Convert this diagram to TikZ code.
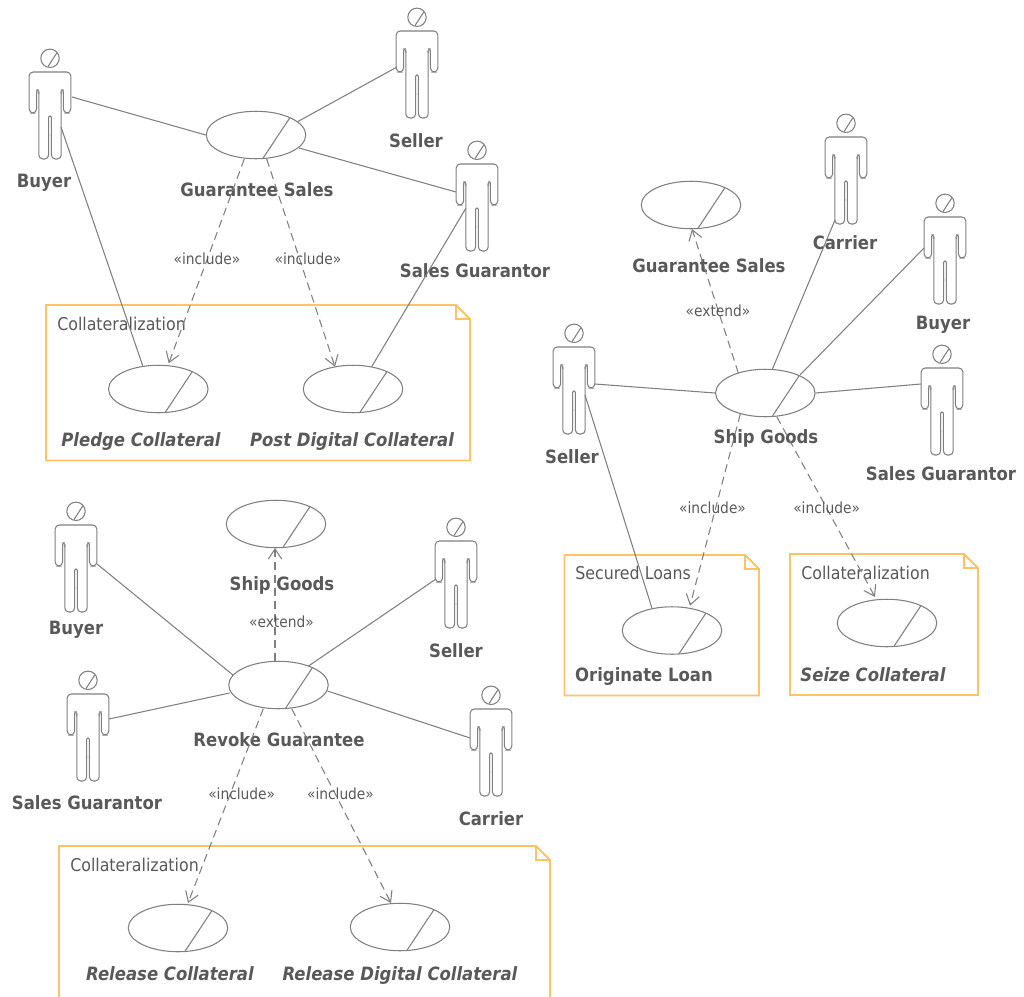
\documentclass[tikz,border=0pt]{standalone}
\usepackage{fontspec}
\usepackage{xcolor}
\setmainfont{DejaVu Sans Condensed}
\usetikzlibrary{arrows.meta,shapes.geometric}
\definecolor{umlline}{HTML}{808080}
\definecolor{umltext}{HTML}{595959}
\definecolor{umlnote}{HTML}{FFC266}
\tikzset{
  umlstroke/.style={draw=umlline, line width=0.8pt},
  actorbox/.style={rectangle, minimum width=31.5pt, minimum height=82.5pt, inner sep=0pt},
  figure/.pic={
    \draw[umlstroke] (0,-45.7) circle [radius=9.2];
    \draw[umlstroke] (-2,-37.4)--(7,-51.4);
    \draw[umlstroke, rounded corners=3pt] (-13.4,-13)--(-13.4,9)--(-20.8,9)--(-20.8,-32)--(20.8,-32)--(20.8,9)--(13.4,9)--(13.4,-13);
    \draw[umlstroke, rounded corners=1pt] (-13.4,-10)--(-13.4,-14)--(-11.2,-14)--(-11.2,-10);
    \draw[umlstroke, rounded corners=1pt] (13.4,-10)--(13.4,-14)--(11.2,-14)--(11.2,-10);
    \draw[umlstroke, rounded corners=3pt] (-1.4,30)--(-1.4,55)--(-11.2,55)--(-11.2,-12);
    \draw[umlstroke, rounded corners=3pt] (1.4,30)--(1.4,55)--(11.2,55)--(11.2,-12);
    \draw[umlstroke, rounded corners=1pt] (-1.4,32)--(-1.4,12)--(1.4,12)--(1.4,32);
  },
  usecase/.style={ellipse, umlstroke, fill=white, minimum width=74.6pt, minimum height=35.6pt, inner sep=0pt,
    path picture={\draw[umlstroke] ([shift={(6.7,23.7)}]path picture bounding box.center)--([shift={(33.7,-17)}]path picture bounding box.center);}},
  actorname/.style={text=umltext, font=\bfseries\fontsize{13.75pt}{16pt}\selectfont, inner sep=0pt, text height=10pt, text depth=0pt, yshift=-0.6pt},
  abstractname/.style={actorname, font=\bfseries\itshape\fontsize{13.75pt}{16pt}\selectfont},
  stereo/.style={text=umltext, font=\fontsize{11.5pt}{13pt}\selectfont, inner sep=0pt, text height=8.7pt, text depth=0pt, yshift=-0.4pt},
  notetitle/.style={text=umltext, font=\fontsize{13.2pt}{15pt}\selectfont, inner sep=0pt, anchor=west, text height=10pt, text depth=0pt, yshift=-0.4pt},
  notebox/.style={draw=umlnote, line width=1.4pt},
  assoc/.style={umlstroke},
  dep/.style={umlstroke, dash pattern=on 6pt off 3.75pt, -{Straight Barb[length=7.5pt,width=10pt]}},
}
\newcommand{\actor}[3]{\node[actorbox] (#1) at (#2,#3) {}; \pic at (#2,#3) {figure};}
\begin{document}
\begin{tikzpicture}[x=0.75pt, y=-0.75pt]
  \useasboundingbox (0,0) rectangle (1024,996);

  \draw[notebox] (46,305)--(456,305)--(470,319)--(470,460.5)--(46,460.5)--cycle;
  \draw[notebox] (456,305)--(456,319)--(470,319);
  \draw[notebox] (564.5,555)--(745,555)--(759,569)--(759,695.5)--(564.5,695.5)--cycle;
  \draw[notebox] (745,555)--(745,569)--(759,569);
  \draw[notebox] (790,554)--(964,554)--(978,568)--(978,695)--(790,695)--cycle;
  \draw[notebox] (964,554)--(964,568)--(978,568);
  \draw[notebox] (59,1010)--(59,846)--(536,846)--(550,860)--(550,1010);
  \draw[notebox] (536,846)--(536,860)--(550,860);

  \node[notetitle] (notepledge) at (57,323) {Collateralization};
  \node[notetitle] (noteloans) at (575,572) {Secured Loans};
  \node[notetitle] (noteseize) at (801,572) {Collateralization};
  \node[notetitle] (noterelease) at (70,864) {Collateralization};

  \actor{buyerA}{50}{104}
  \actor{sellerA}{417}{63}
  \actor{guarantorA}{477}{196}
  \actor{carrierB}{846}{169}
  \actor{buyerB}{945}{249}
  \actor{sellerB}{574}{379}
  \actor{guarantorB}{942}{400}
  \actor{buyerC}{76}{557}
  \actor{sellerC}{456}{573}
  \actor{guarantorC}{88}{726}
  \actor{carrierC}{491}{741}

  \node[usecase] (guarantee) at (256,135) {};
  \node[usecase] (pledge) at (158.3,389) {};
  \node[usecase] (post) at (353,389) {};
  \node[usecase] (guaranteeB) at (691,205) {};
  \node[usecase] (ship) at (765.3,393) {};
  \node[usecase] (originate) at (672,630.5) {};
  \node[usecase] (seize) at (887,623) {};
  \node[usecase] (shipC) at (276,524) {};
  \node[usecase] (revoke) at (278.5,685) {};
  \node[usecase] (release) at (178,928) {};
  \node[usecase] (releasedigital) at (400,927) {};

  \node[actorname] (buyerAname) at (44,180) {Buyer};
  \node[actorname] (sellerAname) at (416,140) {Seller};
  \node[actorname] (guarantorAname) at (475,270) {Sales Guarantor};
  \node[actorname] (guaranteename) at (257,189) {Guarantee Sales};
  \node[abstractname] (pledgename) at (141,439) {Pledge Collateral};
  \node[abstractname] (postname) at (352,439) {Post Digital Collateral};
  \node[actorname] (guaranteeBname) at (709,265) {Guarantee Sales};
  \node[actorname] (carrierBname) at (845,242) {Carrier};
  \node[actorname] (buyerBname) at (943,322) {Buyer};
  \node[actorname] (sellerBname) at (572,456) {Seller};
  \node[actorname] (guarantorBname) at (941,473) {Sales Guarantor};
  \node[actorname] (shipname) at (766,436) {Ship Goods};
  \node[actorname] (originatename) at (644,674) {Originate Loan};
  \node[abstractname] (seizename) at (873,674) {Seize Collateral};
  \node[actorname] (shipCname) at (282,583) {Ship Goods};
  \node[actorname] (buyerCname) at (76,627) {Buyer};
  \node[actorname] (sellerCname) at (456,650) {Seller};
  \node[actorname] (guarantorCname) at (87,802) {Sales Guarantor};
  \node[actorname] (carrierCname) at (491,818) {Carrier};
  \node[actorname] (revokename) at (279,739) {Revoke Guarantee};
  \node[abstractname] (releasename) at (170,973) {Release Collateral};
  \node[abstractname] (releasedigitalname) at (400,973) {Release Digital Collateral};

  \draw[assoc] ([shift={(22,-7)}]buyerA.center)--(guarantee.west);
  \draw[assoc] ([shift={(11,23)}]buyerA.center)--([shift={(-15.6,-23.3)}]pledge.center);
  \draw[assoc] ([shift={(-20,4)}]sellerA.center)--([shift={(41,-13)}]guarantee.center);
  \draw[assoc] ([shift={(43,13)}]guarantee.center)--([shift={(-21,-4)}]guarantorA.center);
  \draw[assoc] ([shift={(-11,12)}]guarantorA.center)--([shift={(18.7,-22.3)}]post.center);
  \draw[dep] ([shift={(-11.7,24)}]guarantee.center)--([shift={(10.4,-25.7)}]pledge.center);
  \draw[dep] ([shift={(10.7,24)}]guarantee.center)--([shift={(-18,-22.3)}]post.center);
  \node[stereo] (includepledge) at (207,258) {«include»};
  \node[stereo] (includepost) at (308,258) {«include»};

  \draw[assoc] ([shift={(21,5)}]sellerB.center)--(ship.west);
  \draw[assoc] ([shift={(11,16)}]sellerB.center)--([shift={(-20,-22.2)}]originate.center);
  \draw[assoc] ([shift={(-11,51)}]carrierB.center)--([shift={(7,-23.7)}]ship.center);
  \draw[assoc] ([shift={(-21,-1)}]buyerB.center)--([shift={(34.7,-18)}]ship.center);
  \draw[assoc] (ship.east)--([shift={(-21,-16)}]guarantorB.center);
  \draw[dep] ([shift={(-27,-20)}]ship.center)--([shift={(1,24)}]guaranteeB.center);
  \draw[dep] ([shift={(-25,21)}]ship.center)--([shift={(18,-24.8)}]originate.center);
  \draw[dep] ([shift={(11.5,23.7)}]ship.center)--([shift={(-12,-26)}]seize.center);
  \node[stereo] (extendguarantee) at (718,310) {«extend»};
  \node[stereo] (includeoriginate) at (712.5,507) {«include»};
  \node[stereo] (includeseize) at (826.7,507) {«include»};

  \draw[assoc] ([shift={(21,7)}]buyerC.center)--([shift={(-45.5,-10)}]revoke.center);
  \draw[assoc] ([shift={(21,-7)}]guarantorC.center)--([shift={(-49,8)}]revoke.center);
  \draw[assoc] ([shift={(-20,6)}]sellerC.center)--([shift={(30,-19)}]revoke.center);
  \draw[assoc] ([shift={(-21,-3)}]carrierC.center)--([shift={(49,6)}]revoke.center);
  \draw[dep] ([shift={(-3.5,-24)}]revoke.center)--([shift={(-1,24)}]shipC.center);
  \draw[dep] ([shift={(-15.2,23.7)}]revoke.center)--([shift={(10,-25)}]release.center);
  \draw[dep] ([shift={(13.2,23.7)}]revoke.center)--([shift={(-9,-24)}]releasedigital.center);
  \node[stereo] (extendship) at (281.5,620.7) {«extend»};
  \node[stereo] (includerelease) at (241.7,793) {«include»};
  \node[stereo] (includedigital) at (340.5,793) {«include»};
\end{tikzpicture}
\end{document}
